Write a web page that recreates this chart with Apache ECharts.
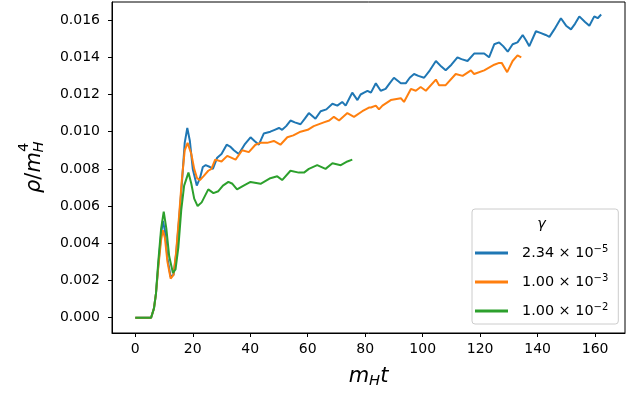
<!DOCTYPE html>
<html>
<head>
<meta charset="utf-8">
<script src="https://cdn.jsdelivr.net/npm/echarts@6/dist/echarts.min.js"></script>
<style>
  html, body { margin: 0; padding: 0; background: #fff; }
  #chart { width: 639px; height: 395px; }
</style>
</head>
<body>
<div id="chart"></div>
<script>
  // gamma values shown in the legend
  var gammaMant = ['2.34', '1.00', '1.00']
  var gammaExp = ['\u22125', '\u22123', '\u22122']
  var colors = ['#1f77b4', '#ff7f0e', '#2ca02c']

  var xTicks = [0, 20, 40, 60, 80, 100, 120, 140, 160]
  var yTicks = [0, 0.002, 0.004, 0.006, 0.008, 0.010, 0.012, 0.014, 0.016]

  // gamma = 2.34e-5
  var blueT = [0, 5.5, 6.5, 7.2, 8, 9, 9.6, 10.3, 11.2, 12.3, 13.3, 14.2, 15.2, 16.2, 17.2, 18.1, 19, 20, 21.4, 22.5,
    23.5, 24.5, 26, 27, 28.5, 30, 31.8, 33, 34.3, 36, 38, 40.1, 41.5, 43, 44.7, 47, 48.5, 50, 51.1, 52.5,
    54, 55.5, 57.5, 59, 60.4, 62.7, 64.5, 66.5, 68.6, 70.3, 72, 73.2, 74.5, 75.5, 77.3, 78.4, 79.6, 80.8, 82, 83.7,
    85.4, 87.1, 88.5, 90, 92.4, 94.1, 95.5, 97, 98.5, 100.5, 102.5, 104.6, 106.5, 108, 110, 112.1, 113.5, 115.6, 117.9, 119.5,
    121.4, 123.1, 124.9, 126.6, 128, 129.6, 131.3, 133, 134.8, 136, 137.1, 139.4, 141.2, 142.8, 144.1, 145.8, 148.1, 149.9, 151.6, 153,
    154.5, 156.5, 158, 159.7, 160.9, 162.1]
  var blueV = [0, 0, 0.0005, 0.0013, 0.0028, 0.0045, 0.0052, 0.0047, 0.0032, 0.0022, 0.0023, 0.0034, 0.0052, 0.0072, 0.0094, 0.0102, 0.0095, 0.0080, 0.0071, 0.0075,
    0.0081, 0.0082, 0.0081, 0.0080, 0.0086, 0.0088, 0.0093, 0.0092, 0.0090, 0.0088, 0.0093, 0.0097, 0.0095, 0.0093, 0.0099, 0.0100, 0.0101, 0.0102, 0.0101, 0.0103,
    0.0106, 0.0105, 0.0104, 0.0107, 0.0110, 0.0107, 0.0111, 0.0112, 0.0115, 0.0114, 0.0116, 0.0114, 0.0118, 0.0121, 0.0117, 0.0120, 0.0121, 0.0122, 0.0121, 0.0126,
    0.0122, 0.0123, 0.0126, 0.0129, 0.0126, 0.0126, 0.0129, 0.0131, 0.0130, 0.0129, 0.0133, 0.0138, 0.0135, 0.0133, 0.0136, 0.0140, 0.0139, 0.0138, 0.0142, 0.0142,
    0.0142, 0.0140, 0.0147, 0.0148, 0.0146, 0.0143, 0.0147, 0.0148, 0.0152, 0.0149, 0.0146, 0.0154, 0.0153, 0.0152, 0.0151, 0.0155, 0.0161, 0.0157, 0.0155, 0.0158,
    0.0162, 0.0159, 0.0157, 0.0162, 0.0161, 0.0163]

  // gamma = 1e-3
  var orangeT = [0, 5.5, 6.5, 7.2, 8, 9, 9.6, 10.3, 11.2, 12.3, 13.3, 14.2, 15.2, 16.2, 17.2, 18.2, 19.5, 20.5, 21.5, 22.5,
    23.7, 25.4, 26.5, 27.8, 30, 32, 34.9, 37.2, 39.5, 41.8, 43.6, 45.9, 48.2, 50.5, 52.9, 55, 57.5, 60, 62.1, 65.6,
    67.5, 69.1, 70.9, 73.8, 76.1, 79, 81.3, 82, 83.7, 84.8, 86, 88.9, 92.4, 93.5, 95.9, 97.6, 99.3, 101.1, 104.6, 105.7,
    108, 111.5, 113.9, 116.8, 117.9, 121.4, 124.9, 126.6, 127.5, 129.4, 131.3, 133, 134.3]
  var orangeV = [0, 0, 0.0005, 0.0013, 0.0027, 0.0042, 0.0047, 0.0043, 0.0030, 0.0021, 0.0023, 0.0035, 0.0054, 0.0074, 0.0090, 0.0094, 0.0088, 0.0080, 0.0075, 0.0074,
    0.0076, 0.0079, 0.0080, 0.0085, 0.0084, 0.0087, 0.0085, 0.0090, 0.0089, 0.0093, 0.0094, 0.0094, 0.0095, 0.0093, 0.0097, 0.0098, 0.0100, 0.0101, 0.0103, 0.0105,
    0.0106, 0.0108, 0.0106, 0.0110, 0.0108, 0.0111, 0.0113, 0.0113, 0.0114, 0.0112, 0.0114, 0.0117, 0.0118, 0.0116, 0.0123, 0.0122, 0.0124, 0.0122, 0.0128, 0.0125,
    0.0125, 0.0131, 0.0130, 0.0133, 0.0131, 0.0133, 0.0136, 0.0137, 0.0137, 0.0132, 0.0138, 0.0141, 0.0140]

  // gamma = 1e-2
  var greenT = [0, 5.5, 6.5, 7.2, 8, 9, 9.9, 10.8, 11.8, 13.1, 14, 15, 16, 17, 18.5, 19.5, 20.5, 21.7, 23.1, 25.4,
    27.2, 28.9, 30.5, 32.4, 33.8, 35.4, 37.7, 40.1, 43.6, 47, 49.4, 51.1, 54, 56.9, 58.7, 60.4, 63.3, 66.2, 68.6, 71.5,
    73.8, 75.5]
  var greenV = [0, 0, 0.0005, 0.0013, 0.0030, 0.0048, 0.0057, 0.0048, 0.0033, 0.0024, 0.0026, 0.0038, 0.0058, 0.0071, 0.0078, 0.0072, 0.0064, 0.0060, 0.0062, 0.0069,
    0.0067, 0.0068, 0.0071, 0.0073, 0.0072, 0.0069, 0.0071, 0.0073, 0.0072, 0.0075, 0.0076, 0.0074, 0.0079, 0.0078, 0.0078, 0.0080, 0.0082, 0.0080, 0.0083, 0.0082,
    0.0084, 0.0085]

  var FONT = 'DejaVu Sans'

  function pairs(ts, vs) {
    return ts.map(function (t, i) { return [t, vs[i]] })
  }

  var names = gammaMant.map(function (m, i) { return m + ' \u00d7 10^' + gammaExp[i] })
  var allData = [pairs(blueT, blueV), pairs(orangeT, orangeV), pairs(greenT, greenV)]

  var myChart = echarts.init(document.getElementById('chart'), null, { renderer: 'canvas' })

  var option = {
    animation: false,
    backgroundColor: '#fff',
    color: colors,
    grid: {
      left: 112,
      right: 14,
      top: 2,
      bottom: 62,
      show: true,
      borderColor: '#000',
      borderWidth: 1,
      backgroundColor: 'transparent'
    },
    legend: {
      orient: 'vertical',
      left: 472,
      top: 209,
      data: names,
      selectedMode: false,
      icon: 'rect',
      itemWidth: 33,
      itemHeight: 3,
      itemGap: 11,
      padding: [35, 10, 4, 3],
      backgroundColor: '#fff',
      borderColor: '#cccccc',
      borderWidth: 1,
      borderRadius: 3,
      formatter: function (name) {
        var i = names.indexOf(name)
        return gammaMant[i] + ' \u00d7 10{sup|' + gammaExp[i] + '}'
      },
      textStyle: {
        fontFamily: FONT,
        fontSize: 14.4,
        color: '#000',
        lineHeight: 18,
        padding: [0, 0, 0, 9],
        rich: {
          sup: { fontFamily: FONT, fontSize: 10, lineHeight: 12, verticalAlign: 'top', color: '#000' }
        }
      }
    },
    xAxis: {
      type: 'value',
      min: -8.1,
      max: 170.4,
      name: '{i|m}{s|H}{i|t}',
      nameLocation: 'middle',
      nameGap: 32,
      nameTextStyle: {
        rich: {
          i: { fontFamily: FONT, fontStyle: 'italic', fontSize: 21, lineHeight: 24, color: '#000' },
          s: { fontFamily: FONT, fontStyle: 'italic', fontSize: 14.7, lineHeight: 12, verticalAlign: 'bottom', color: '#000' }
        }
      },
      axisLine: { show: true, onZero: false, lineStyle: { color: '#000', width: 1 } },
      splitLine: { show: false },
      axisTick: {
        show: true, inside: false, length: 4,
        customValues: xTicks,
        lineStyle: { color: '#000', width: 1 }
      },
      axisLabel: {
        customValues: xTicks,
        margin: 9,
        fontFamily: FONT,
        fontSize: 14,
        color: '#000',
        formatter: function (v) { return String(v) }
      }
    },
    yAxis: {
      type: 'value',
      min: -0.000823,
      max: 0.016973,
      axisLine: { show: true, onZero: false, lineStyle: { color: '#000', width: 1 } },
      splitLine: { show: false },
      axisTick: {
        show: true, inside: false, length: 4,
        customValues: yTicks,
        lineStyle: { color: '#000', width: 1 }
      },
      axisLabel: {
        customValues: yTicks,
        margin: 12,
        fontFamily: FONT,
        fontSize: 14,
        color: '#000',
        formatter: function (v) { return v.toFixed(3) }
      }
    },
    graphic: [
      {
        // y axis label rho / m_H^4, rotated
        type: 'group',
        x: 41.5,
        y: 193,
        rotation: Math.PI / 2,
        z: 100,
        children: [
          {
            type: 'text', x: 0, y: -7.4,
            style: {
              text: '{i|\u03c1}{u|/}{i|m}', verticalAlign: 'middle', align: 'left',
              rich: {
                i: { fontFamily: FONT, fontStyle: 'italic', fontSize: 21, fill: '#000' },
                u: { fontFamily: FONT, fontSize: 21, fill: '#000' }
              }
            }
          },
          {
            type: 'text', x: 40.5, y: 3 - 5.1,
            style: { text: 'H', font: 'italic 14.7px "DejaVu Sans"', fill: '#000', align: 'left', verticalAlign: 'middle' }
          },
          {
            type: 'text', x: 41, y: -12 - 5.1,
            style: { text: '4', font: '14.7px "DejaVu Sans"', fill: '#000', align: 'left', verticalAlign: 'middle' }
          }
        ]
      },
      {
        // legend title
        type: 'text',
        x: 541.5,
        y: 224,
        z: 100,
        style: { text: '\u03b3', font: 'italic 14.4px "DejaVu Sans"', fill: '#000', align: 'center', verticalAlign: 'middle' }
      }
    ],
    series: names.map(function (n, i) {
      return {
        name: n,
        type: 'line',
        data: allData[i],
        showSymbol: false,
        symbol: 'none',
        lineStyle: { width: 2, color: colors[i] },
        itemStyle: { color: colors[i] }
      }
    })
  }

  myChart.setOption(option)
</script>
</body>
</html>
